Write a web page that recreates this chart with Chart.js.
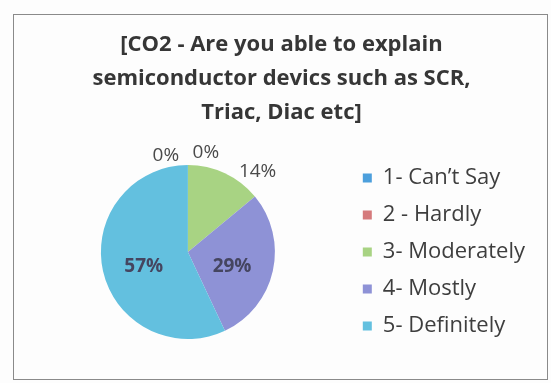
<!DOCTYPE html>
<html>
<head>
<meta charset="utf-8">
<script src="https://cdn.jsdelivr.net/npm/chart.js@4/dist/chart.umd.min.js"></script>
<style>
  html, body { margin: 0; padding: 0; background: #fdfdfd; }
  #wrap { position: relative; width: 551px; height: 383px; }
  #frame { position: absolute; left: 13px; top: 14px; width: 533px; height: 364px;
           border: 1.5px solid #8a8a8a; box-sizing: content-box; }
  canvas { position: absolute; left: 0; top: 0; }
</style>
</head>
<body>
<div id="wrap">
  <div id="frame"></div>
  <canvas id="c" width="551" height="383"></canvas>
</div>
<script>
// Survey responses for CO2 (percent of respondents)
const categories = ['1- Can\u2019t Say', '2 - Hardly', '3- Moderately', '4- Mostly', '5- Definitely'];
const shares = [0, 0, 14, 29, 57];
const sliceColors = ['#4c9fdc', '#d57a7c', '#a8d383', '#8e92d6', '#63c0df'];
const titleLines = ['[CO2 - Are you able to explain', 'semiconductor devics such as SCR,', 'Triac, Diac etc]'];

const FONT = '"Open Sans", Lato, sans-serif';

// Percent labels: large slices inside, small/empty ones just outside the rim
const pctLabels = {
  id: 'pctLabels',
  afterDatasetsDraw(chart) {
    const ctx = chart.ctx;
    const meta = chart.getDatasetMeta(0);
    ctx.save();
    ctx.textAlign = 'center';
    ctx.textBaseline = 'middle';
    let zeroCount = 0;
    meta.data.forEach((arc, i) => {
      const v = shares[i];
      const { x, y, startAngle, endAngle, outerRadius } = arc.getProps(['x', 'y', 'startAngle', 'endAngle', 'outerRadius'], true);
      const mid = (startAngle + endAngle) / 2;
      let lx, ly;
      if (v === 0) {
        lx = x + Math.cos(mid) * (outerRadius + 10) + (zeroCount === 0 ? -22 : 18);
        ly = y + Math.sin(mid) * (outerRadius + 10) + (zeroCount === 0 ? 1 : -2);
        zeroCount++;
        ctx.font = '19px ' + FONT;
        ctx.fillStyle = '#4a4a4a';
      } else if (v < 20) {
        lx = x + Math.cos(mid) * (outerRadius + 18) + 25;
        ly = y + Math.sin(mid) * (outerRadius + 18) + 15;
        ctx.font = '19px ' + FONT;
        ctx.fillStyle = '#4a4a4a';
      } else {
        lx = x + Math.cos(mid) * outerRadius * 0.52;
        ly = y + Math.sin(mid) * outerRadius * 0.52 + 5;
        ctx.font = 'bold 19px ' + FONT;
        ctx.fillStyle = '#454560';
      }
      ctx.fillText(v + '%', lx, ly);
    });
    ctx.restore();
  }
};

new Chart(document.getElementById('c'), {
  type: 'pie',
  data: {
    labels: categories,
    datasets: [{
      data: shares,
      backgroundColor: sliceColors,
      borderWidth: 0,
      radius: 87
    }]
  },
  options: {
    responsive: false,
    animation: false,
    layout: { padding: { top: 0, bottom: 11, left: 28, right: 16 } },
    plugins: {
      title: {
        display: true,
        text: titleLines,
        color: '#363636',
        font: { family: FONT, size: 22, weight: 'bold', lineHeight: 1.545 },
        padding: { top: 28, bottom: 2 }
      },
      legend: {
        position: 'right',
        fullSize: false,
        labels: {
          color: '#3e3e3e',
          font: { family: FONT, size: 22 },
          boxWidth: 9,
          boxHeight: 9,
          padding: 15
        }
      },
      tooltip: { enabled: false }
    }
  },
  plugins: [pctLabels]
});
</script>
</body>
</html>
